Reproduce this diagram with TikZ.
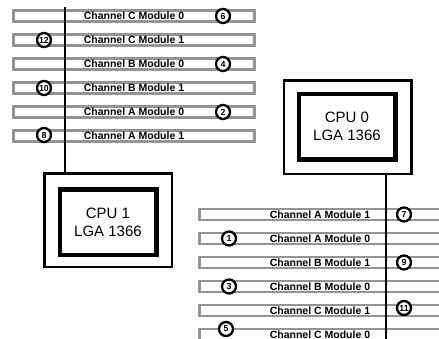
\documentclass[tikz,border=0pt]{standalone}
\usepackage{fontspec}
\setmainfont{Liberation Sans}
\tikzset{
  slot/.style={draw=black!42, line width=2.6pt, fill=white, minimum width=241.5pt, minimum height=11pt, inner sep=0pt, font=\bfseries\fontsize{10.5}{12}\selectfont},
  num/.style={circle, draw, line width=2.3pt, fill=white, minimum size=14pt, inner sep=0pt, font=\bfseries\fontsize{8.8}{10}\selectfont},
  cpuframe/.style={draw, line width=2.5pt, minimum width=127.5pt, minimum height=93.5pt},
  cpucore/.style={draw, line width=4.5pt, minimum width=96.5pt, minimum height=65.5pt, align=center, font=\fontsize{15}{18}\selectfont},
  bus/.style={line width=1.4pt}
}
\begin{document}
\begin{tikzpicture}[x=1pt, y=-1pt]
\clip (0,0) rectangle (439,338);
\useasboundingbox (0,0) rectangle (439,338);

% Left memory slots (CPU 1)
\node[slot] (l1) at (134,16) {Channel C Module 0};
\node[slot] (l2) at (134,40) {Channel C Module 1};
\node[slot] (l3) at (134,64) {Channel B Module 0};
\node[slot] (l4) at (134,88) {Channel B Module 1};
\node[slot] (l5) at (134,112) {Channel A Module 0};
\node[slot] (l6) at (134,136) {Channel A Module 1};

% Right memory slots (CPU 0)
\node[slot] (r1) at (320,214.5) {Channel A Module 1};
\node[slot] (r2) at (320,238.5) {Channel A Module 0};
\node[slot] (r3) at (320,262.5) {Channel B Module 1};
\node[slot] (r4) at (320,286.5) {Channel B Module 0};
\node[slot] (r5) at (320,310.5) {Channel C Module 1};
\node[slot] (r6) at (320,334.5) {Channel C Module 0};

% Processors
\node[cpuframe] (cpu1) at (108,220) {};
\node[cpucore] (cpu1core) at (108,222) {CPU 1\\LGA 1366};
\node[cpuframe] (cpu0) at (347.5,127) {};
\node[cpucore] (cpu0core) at (347,126.5) {CPU 0\\LGA 1366};

% Memory buses
\coordinate (lbus) at (65,7);
\coordinate (rbus) at (386,345);
\draw[bus] (lbus) -- (lbus |- cpu1.north);
\draw[bus] (rbus |- cpu0.south) -- (rbus);

% Population order, left
\node[num] (n6) at (223,16) {6};
\node[num] (n12) at (44,40) {12};
\node[num] (n4) at (223,64) {4};
\node[num] (n10) at (44,88) {10};
\node[num] (n2) at (223,112) {2};
\node[num] (n8) at (44,135) {8};

% Population order, right
\node[num] (n7) at (404,214.5) {7};
\node[num] (n1) at (229,238.5) {1};
\node[num] (n9) at (404,262.5) {9};
\node[num] (n3) at (229,286.5) {3};
\node[num] (n11) at (404,308) {11};
\node[num] (n5) at (226,329) {5};

\end{tikzpicture}
\end{document}
